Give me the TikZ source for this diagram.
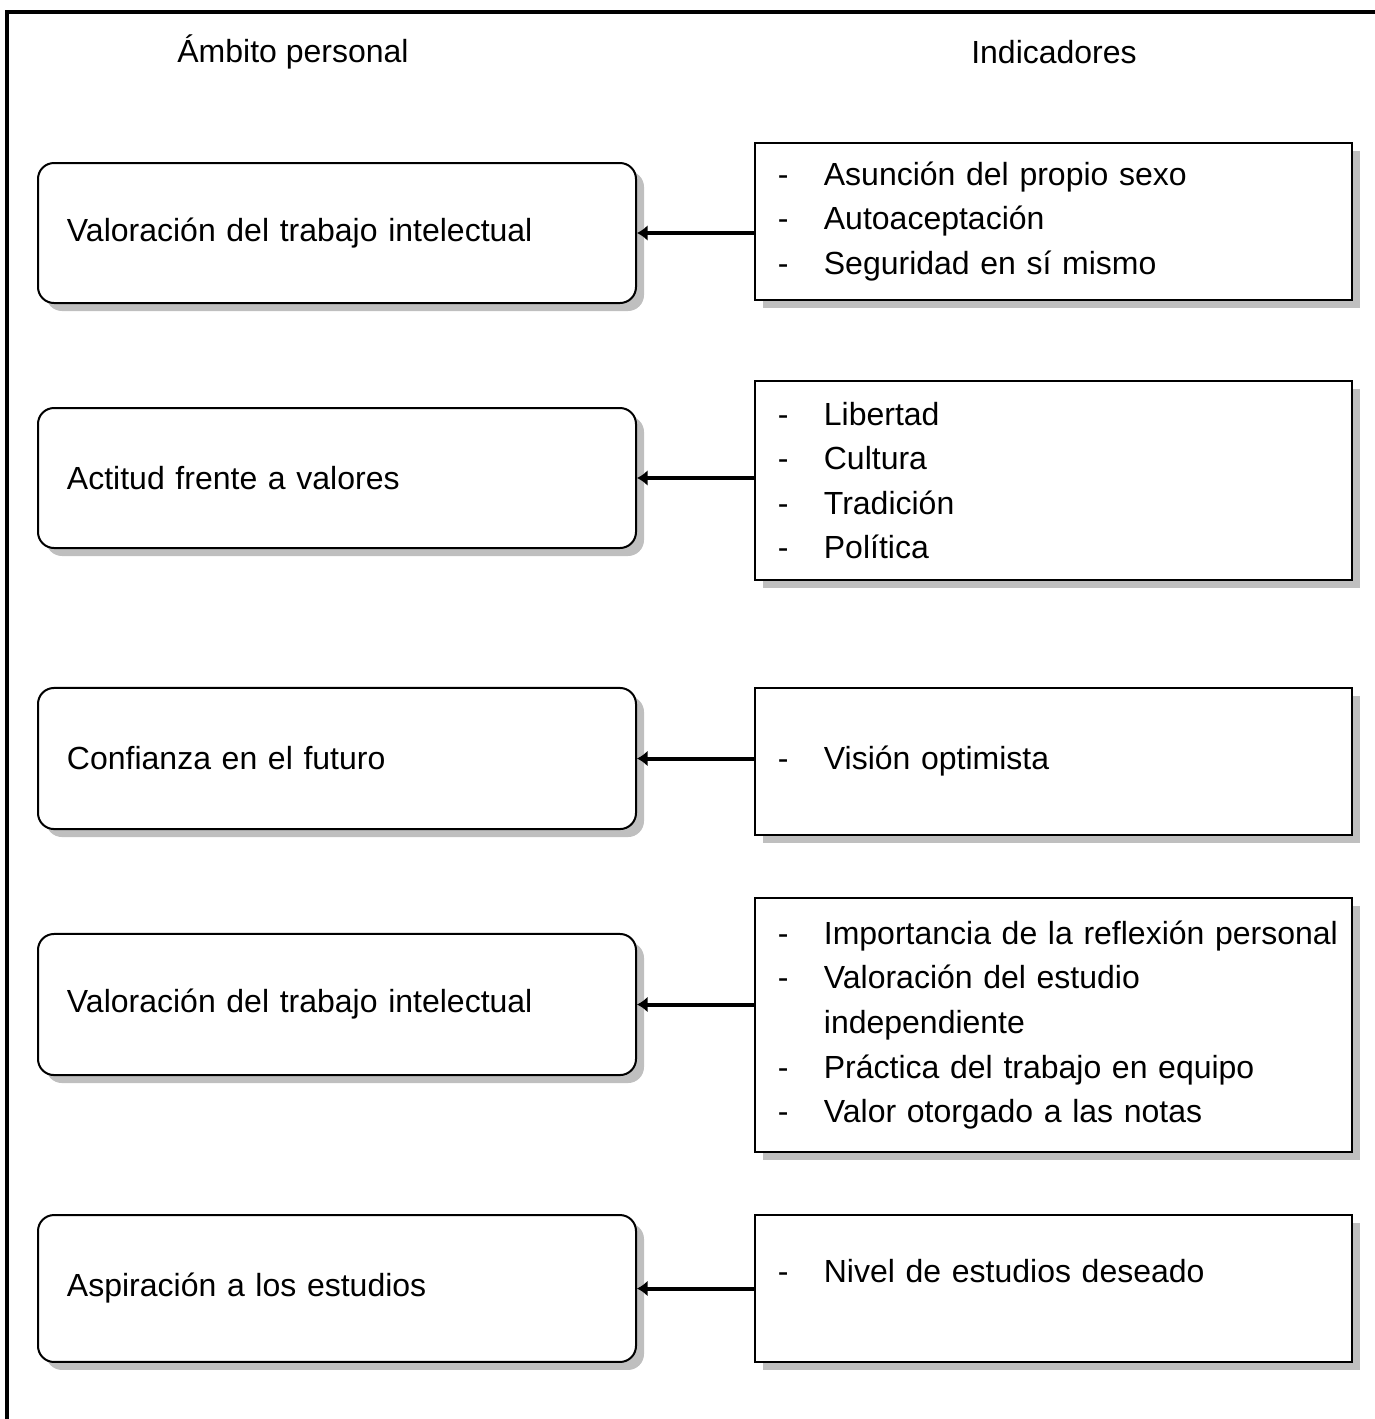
\documentclass[tikz,border=0pt]{standalone}
\usepackage{fontspec}
\setmainfont{Liberation Sans}
\usetikzlibrary{arrows.meta,shadows}
\newcommand{\guion}{\hspace*{5.6pt}\makebox[17.25pt][l]{-}}
\newcommand{\sangria}{\hspace*{22.85pt}}

\begin{document}
\begin{tikzpicture}[x=0.375pt, y=-0.375pt, font=\fontsize{12}{16.7}\selectfont]
    \tikzstyle{ambito}=[draw, line width=0.75pt, rounded corners=6pt, fill=white,
        general shadow={fill=black!25, shadow xshift=3pt, shadow yshift=-3pt},
        text width=202.5pt, inner xsep=10.875pt, align=left];
    \tikzstyle{indicador}=[draw, line width=0.75pt, fill=white,
        general shadow={fill=black!25, shadow xshift=3pt, shadow yshift=-3pt},
        text width=217.9pt, inner xsep=3pt, align=left];
    \tikzstyle{flecha}=[line width=1.5pt, -{Latex[length=4pt, width=6pt]}];

    \useasboundingbox (0, 0) rectangle (1374, 1419);
    \draw[line width=1.5pt] (1390, 12) -- (7, 12) -- (7, 1430);

    \node at ( 293, 52) (tamb) {Ámbito personal};
    \node at (1054, 52) (tind) {Indicadores};

    % ambito personal
    \node at (337,  233.0) (a1) [ambito, minimum height=52.5pt] {Valoración del trabajo intelectual};
    \node at (337,  478.0) (a2) [ambito, minimum height=52.5pt] {Actitud frente a valores};
    \node at (337,  758.5) (a3) [ambito, minimum height=52.9pt] {Confianza en el futuro};
    \node at (337, 1004.5) (a4) [ambito, minimum height=52.9pt] {Valoración del trabajo intelectual};
    \node at (337, 1288.5) (a5) [ambito, minimum height=55.1pt] {Aspiración a los estudios};

    % indicadores
    \node at (1053.5,  221.5) (i1) [indicador, minimum height=58.9pt]
        {\guion Asunción del propio sexo\\ \guion Autoaceptación\\ \guion Seguridad en sí mismo};
    \node at (1053.5,  480.5) (i2) [indicador, minimum height=74.6pt]
        {\guion Libertad\\ \guion Cultura\\ \guion Tradición\\ \guion Política};
    \node at (1053.5,  761.5) (i3) [indicador, minimum height=55.1pt]
        {\guion Visión optimista};
    \node at (1053.5, 1025.0) (i4) [indicador, minimum height=95.25pt]
        {\guion Importancia de la reflexión personal\\ \guion Valoración del estudio\\
         \sangria independiente\\ \guion Práctica del trabajo en equipo\\ \guion Valor otorgado a las notas};
    \node at (1053.5, 1288.5) (i5) [indicador, minimum height=55.1pt]
        {\guion Nivel de estudios deseado\\[-3.7pt]\mbox{}};

    \draw[flecha] (i1.west |- a1.east) -- (a1.east);
    \draw[flecha] (i2.west |- a2.east) -- (a2.east);
    \draw[flecha] (i3.west |- a3.east) -- (a3.east);
    \draw[flecha] (i4.west |- a4.east) -- (a4.east);
    \draw[flecha] (i5.west |- a5.east) -- (a5.east);
\end{tikzpicture}
\end{document}
